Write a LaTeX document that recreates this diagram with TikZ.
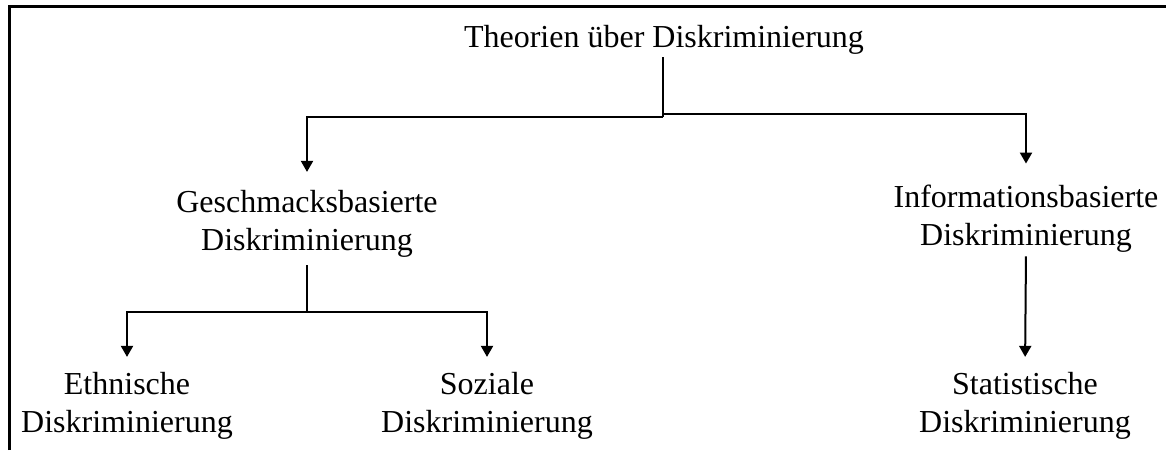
\documentclass[tikz,border=0pt]{standalone}
\usepackage{fontspec}
\setmainfont{Liberation Serif}
\usetikzlibrary{arrows.meta}

\begin{document}
\begin{tikzpicture}[x=0.5pt, y=-0.5pt,
    txt/.style={align=center, inner sep=0pt, anchor=base, font=\fontsize{16}{18.75}\selectfont},
    conn/.style={line width=1pt},
    arr/.style={conn, -{Triangle[width=6pt,length=5.5pt]}}]
    \useasboundingbox (0,0) rectangle (1166,450);
    % frame
    \draw[line width=1.5pt] (9,450) -- (9,6) -- (1166,6);

    % nodes (placed at the baseline of their last line)
    \node[txt] (theo) at (664,47) {Theorien über Diskriminierung};
    \node[txt] (gesch) at (307,250) {Geschmacksbasierte\\Diskriminierung};
    \node[txt] (info) at (1026,245) {Informationsbasierte\\Diskriminierung};
    \node[txt] (ethn) at (127,432) {Ethnische\\Diskriminierung};
    \node[txt] (soz) at (487,432) {Soziale\\Diskriminierung};
    \node[txt] (stat) at (1025,432) {Statistische\\Diskriminierung};

    % junctions
    \coordinate (tjl) at (663,117);
    \coordinate (tjr) at (663,114);
    \coordinate (gj) at (307,312);

    % connectors
    \draw[conn, shorten <=1.5pt] (theo.south -| tjl) -- (tjl);
    \draw[arr, shorten >=9pt] (tjl) -| (gesch.north);
    \draw[arr, shorten >=10.5pt] (tjr) -| (info.north);
    \draw[conn, shorten <=4pt] (gesch.south) -- (gj);
    \foreach \n in {ethn,soz}{
        \draw[arr, shorten >=7.5pt] (gj) -| (\n.north);
    }
    \draw[arr, shorten <=2pt, shorten >=7.5pt] (info.south) -- (stat.north);
\end{tikzpicture}
\end{document}
